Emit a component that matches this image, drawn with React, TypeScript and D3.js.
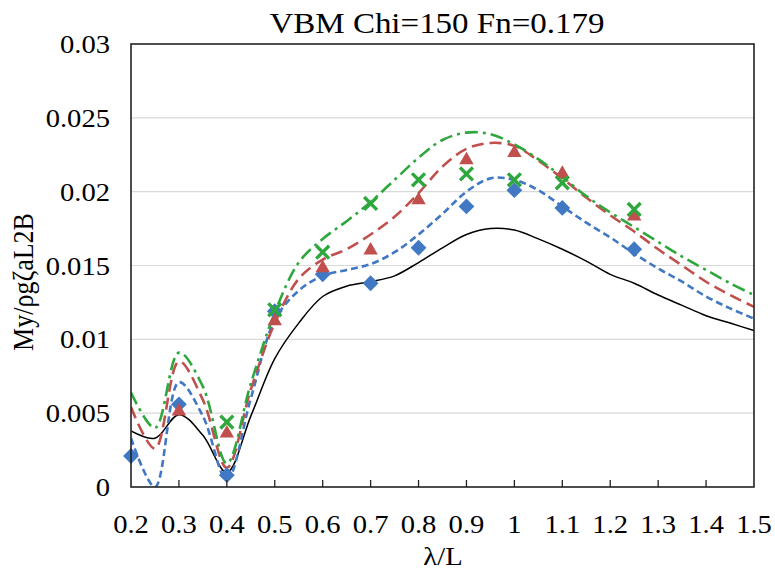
import React from 'react';
import * as d3 from 'd3';

// wavelength ratio λ/L for the computed curves
const lambdaCurve = [0.2, 0.25, 0.3, 0.35, 0.4, 0.45, 0.5, 0.55, 0.6, 0.65, 0.7, 0.75, 0.8, 0.85, 0.9, 0.95, 1.0, 1.05, 1.1, 1.15, 1.2, 1.25, 1.3, 1.35, 1.4, 1.45, 1.5];

const blackLine = [0.0038, 0.0033, 0.0049, 0.0035, 0.0010, 0.0048, 0.0087, 0.0111, 0.0129, 0.0136, 0.0139, 0.0143, 0.0152, 0.0162, 0.0171, 0.0175, 0.0174, 0.0168, 0.0161, 0.0153, 0.0144, 0.0138, 0.0130, 0.0123, 0.0116, 0.0111, 0.0106];
const blueLine = [0.0033, 0.0000, 0.0071, 0.0048, 0.0005, 0.0060, 0.0113, 0.0133, 0.0143, 0.0147, 0.0151, 0.0159, 0.0171, 0.0185, 0.0200, 0.0209, 0.0208, 0.0201, 0.0190, 0.0179, 0.0169, 0.0158, 0.0148, 0.0139, 0.0129, 0.0121, 0.0114];
const redLine = [0.0054, 0.0026, 0.0085, 0.0059, 0.0013, 0.0066, 0.0111, 0.0141, 0.0154, 0.0161, 0.0171, 0.0183, 0.0199, 0.0217, 0.0229, 0.0233, 0.0231, 0.0221, 0.0209, 0.0196, 0.0184, 0.0173, 0.0161, 0.0150, 0.0139, 0.0130, 0.0122];
const greenLine = [0.0064, 0.0040, 0.0091, 0.0068, 0.0016, 0.0070, 0.0118, 0.0152, 0.0168, 0.0180, 0.0193, 0.0208, 0.0223, 0.0235, 0.0240, 0.0239, 0.0232, 0.0222, 0.0210, 0.0197, 0.0186, 0.0176, 0.0166, 0.0156, 0.0147, 0.0138, 0.0130];

// experiment points
const blueExpX = [0.2, 0.3, 0.4, 0.5, 0.6, 0.7, 0.8, 0.9, 1.0, 1.1, 1.25];
const blueExpY = [0.0021, 0.0056, 0.0008, 0.0119, 0.0144, 0.0138, 0.0162, 0.0190, 0.0201, 0.0189, 0.0161];
const redExpX = [0.3, 0.4, 0.5, 0.6, 0.7, 0.8, 0.9, 1.0, 1.1, 1.25];
const redExpY = [0.0052, 0.0037, 0.0113, 0.0149, 0.0161, 0.0195, 0.0222, 0.0227, 0.0213, 0.0184];
const greenExpX = [0.4, 0.5, 0.6, 0.7, 0.8, 0.9, 1.0, 1.1, 1.25];
const greenExpY = [0.0044, 0.0120, 0.0159, 0.0192, 0.0208, 0.0212, 0.0208, 0.0206, 0.0188];

const xTicks = [0.2, 0.3, 0.4, 0.5, 0.6, 0.7, 0.8, 0.9, 1, 1.1, 1.2, 1.3, 1.4, 1.5];
const yTicks = [0, 0.005, 0.01, 0.015, 0.02, 0.025, 0.03];

const W = 775;
const H = 570;
const left = 131;
const right = 754;
const top = 44;
const bottom = 487;

const font = 'Liberation Serif, Times New Roman, Times, DejaVu Serif, serif';
const stretch = 1.1;

const App = () => {
  const x = d3.scaleLinear().domain([0.2, 1.5]).range([left, right]);
  const y = d3.scaleLinear().domain([0, 0.03]).range([bottom, top]);

  const line = (vals: number[]) =>
    d3.line<number>()
      .x((_, i) => x(lambdaCurve[i]))
      .y((d) => y(d))
      .curve(d3.curveCatmullRom.alpha(0.5))(vals) || '';

  const diamond = d3.symbol(d3.symbolSquare, 125)() || '';
  const triangle = d3.symbol(d3.symbolTriangle, 90)() || '';
  const cross = d3.symbol(d3.symbolX, 110)() || '';

  const curves = [
    { vals: blackLine, color: '#000000', width: 1.5, dash: undefined },
    { vals: blueLine, color: '#4178C4', width: 2.6, dash: '7 4' },
    { vals: redLine, color: '#C0504D', width: 2.6, dash: '12 6' },
    { vals: greenLine, color: '#2EA83C', width: 2.6, dash: '13 5 3 5' },
  ];

  const txt = { fontFamily: font, fill: '#000' };

  return (
    <svg width={W} height={H} style={{ position: 'absolute', left: 0, top: 0, background: '#fff' }}>
      <defs>
        <clipPath id="plot">
          <rect x={left} y={top} width={right - left} height={bottom - top} />
        </clipPath>
      </defs>

      {/* title */}
      <text transform={`translate(437,33) scale(${stretch},1)`} textAnchor="middle"
        style={txt} fontSize={30}>VBM Chi=150 Fn=0.179</text>

      {/* grid */}
      {yTicks.slice(1, -1).map((t) => (
        <line key={t} x1={left} x2={right} y1={y(t)} y2={y(t)} stroke="#d9d9d9" strokeWidth={1.2} />
      ))}

      {/* curves */}
      <g clipPath="url(#plot)" fill="none">
        {curves.map((c, i) => (
          <path key={i} d={line(c.vals)} stroke={c.color} strokeWidth={c.width}
            strokeDasharray={c.dash} strokeLinejoin="round" />
        ))}
      </g>

      {/* markers */}
      {blueExpX.map((l, i) => (
        <path key={'b' + i} d={diamond} fill="#4178C4"
          transform={`translate(${x(l)},${y(blueExpY[i])}) rotate(45)`} />
      ))}
      {redExpX.map((l, i) => (
        <path key={'r' + i} d={triangle} fill="#C0504D"
          transform={`translate(${x(l)},${y(redExpY[i]) + 1})`} />
      ))}
      {greenExpX.map((l, i) => (
        <path key={'g' + i} d={cross} fill="none" stroke="#2EA83C" strokeWidth={3.4}
          transform={`translate(${x(l)},${y(greenExpY[i])})`} />
      ))}

      {/* frame */}
      <rect x={left} y={top} width={right - left} height={bottom - top} fill="none" stroke="#222" strokeWidth={1.6} />

      {/* x ticks */}
      {xTicks.slice(1, -1).map((t) => (
        <line key={t} x1={x(t)} x2={x(t)} y1={bottom} y2={bottom - 7} stroke="#222" strokeWidth={1.3} />
      ))}

      {/* axis labels */}
      {xTicks.map((t) => (
        <text key={t} transform={`translate(${x(t)},533) scale(${stretch},1)`} textAnchor="middle"
          style={txt} fontSize={26}>{String(t)}</text>
      ))}
      {yTicks.map((t) => (
        <text key={t} transform={`translate(110,${y(t) + 9}) scale(${stretch},1)`} textAnchor="end"
          style={txt} fontSize={26}>{String(t)}</text>
      ))}

      <text transform={`translate(443,565) scale(${stretch},1)`} textAnchor="middle"
        style={txt} fontSize={26}>λ/L</text>
      <text transform={`translate(33,282) scale(${stretch},1) rotate(-90)`} textAnchor="middle"
        style={txt} fontSize={26}>My/ρgζaL2B</text>
    </svg>
  );
};

export default App;
